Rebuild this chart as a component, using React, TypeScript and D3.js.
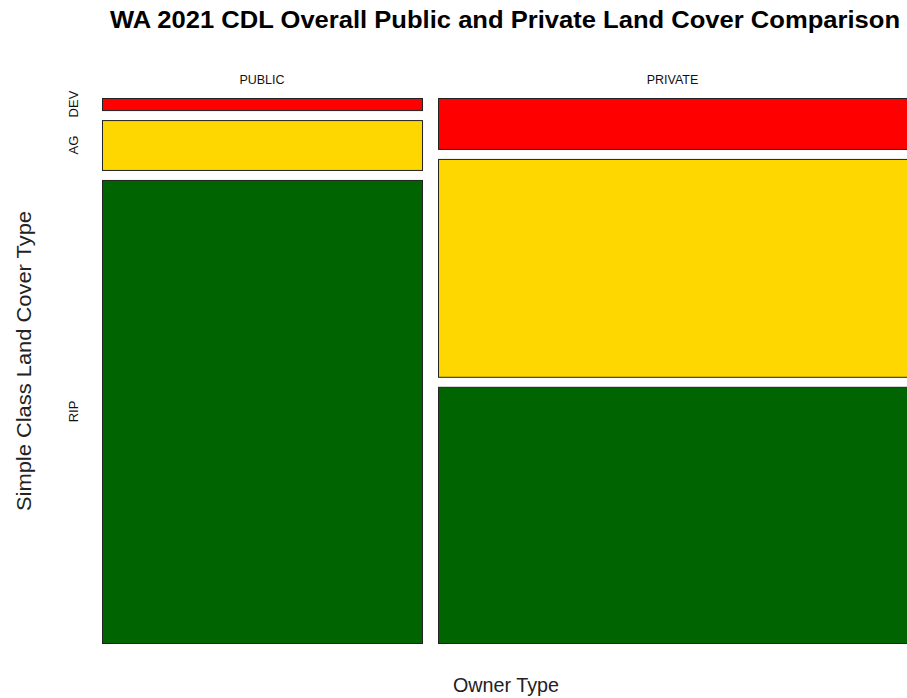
import React from "react";
import * as d3 from "d3";

const owners = ["PUBLIC", "PRIVATE"];
const ownerShare = [0.4056, 0.5944];
const coverTypes = ["DEV", "AG", "RIP"];
const coverColors = ["#ff0000", "#ffd700", "#006400"];
const publicShares = [0.023, 0.095, 0.882];
const privateShares = [0.097, 0.415, 0.488];
const shares = [publicShares, privateShares];

const W = 907;
const H = 698;
const left = 102;
const right = 907;
const top = 98;
const bottom = 643;
const gapX = 16;
const gapY = 10;

export default function App() {
  const availW = right - left - gapX * (owners.length - 1);
  const availH = bottom - top - gapY * (coverTypes.length - 1);
  const xs = d3.scaleLinear().domain([0, 1]).range([0, availW]);
  const ys = d3.scaleLinear().domain([0, 1]).range([0, availH]);

  const cols: { x0: number; x1: number; name: string; cells: { y0: number; y1: number; c: string; k: string }[] }[] = [];
  let cx = left;
  owners.forEach((o, i) => {
    const w = xs(ownerShare[i]);
    let cy = top;
    const cells = coverTypes.map((k, j) => {
      const h = ys(shares[i][j]);
      const cell = { y0: cy, y1: cy + h, c: coverColors[j], k };
      cy += h + gapY;
      return cell;
    });
    cols.push({ x0: cx, x1: cx + w, name: o, cells });
    cx += w + gapX;
  });

  const font = "Arial, 'Liberation Sans', sans-serif";
  return (
    <svg width={W} height={H} style={{ position: "absolute", left: 0, top: 0, background: "#fff" }}>
      <text
        x={505}
        y={28}
        textAnchor="middle"
        fontFamily={font}
        fontWeight="bold"
        fontSize={23}
        textLength={790}
        lengthAdjust="spacingAndGlyphs"
        fill="#000"
      >
        WA 2021 CDL Overall Public and Private Land Cover Comparison
      </text>
      {cols.map((col) => (
        <g key={col.name}>
          <text x={(col.x0 + col.x1) / 2} y={84} textAnchor="middle" fontFamily={font} fontSize={12.5} fill="#111">
            {col.name}
          </text>
          {col.cells.map((cell) => (
            <rect
              key={cell.k}
              x={col.x0 + 0.5}
              y={cell.y0 + 0.5}
              width={col.x1 - col.x0}
              height={cell.y1 - cell.y0}
              fill={cell.c}
              stroke="#222"
              strokeWidth={1}
            />
          ))}
        </g>
      ))}
      {cols[0].cells.map((cell) => {
        const cyy = (cell.y0 + cell.y1) / 2;
        return (
          <text
            key={cell.k}
            transform={`translate(78,${cyy}) rotate(-90)`}
            textAnchor="middle"
            fontFamily={font}
            fontSize={13}
            fill="#111"
          >
            {cell.k}
          </text>
        );
      })}
      <text
        transform={`translate(31,361) rotate(-90)`}
        textAnchor="middle"
        fontFamily={font}
        fontSize={20}
        textLength={300}
        lengthAdjust="spacingAndGlyphs"
        fill="#222"
      >
        Simple Class Land Cover Type
      </text>
      <text
        x={506}
        y={692}
        textAnchor="middle"
        fontFamily={font}
        fontSize={20}
        textLength={106}
        lengthAdjust="spacingAndGlyphs"
        fill="#222"
      >
        Owner Type
      </text>
    </svg>
  );
}
